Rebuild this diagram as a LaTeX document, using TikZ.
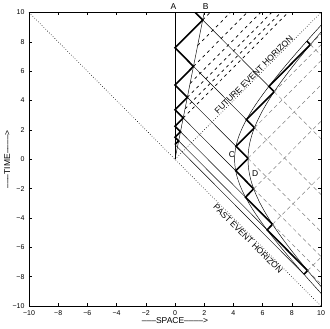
\documentclass[tikz,border=0pt]{standalone}
\usepackage{fontspec}
\setmainfont{Liberation Sans}
\usetikzlibrary{calc}
\definecolor{Ink}{HTML}{000000}
\definecolor{Shade}{HTML}{808080}

\tikzset{
  frame/.style={Ink,line width=0.5pt},
  horizon/.style={Ink,dotted,line width=0.6pt},
  world/.style={Ink,line width=0.45pt},
  signal/.style={Ink,line width=1.6pt,line join=miter},
  ray/.style={Ink,line width=0.45pt},
  lost/.style={Ink,dashed,dash pattern=on 3pt off 3.5pt,line width=0.7pt},
  farray/.style={Shade,dashed,dash pattern=on 4pt off 3pt,line width=0.5pt},
  caption/.style={font=\fontsize{8.5}{9}\selectfont}
}

\begin{document}
\begin{tikzpicture}[x=14.6pt,y=14.68pt,font=\fontsize{7}{8}\selectfont]
  \useasboundingbox (-11.986,-11.56) rectangle (10.616,10.85);
  % hyperbola constants: C at a^2 = 50/3, D at b^2 = 25
  \def\aa{16.6667}
  \def\bb{25}
  \begin{scope}
    \clip (-10,-10) rectangle (10,10);
    % horizons
    \draw[horizon] (-10,10) -- (10,-10);
    \draw[horizon] (0,0) -- (10,10);
    % inertial observers A and B
    \draw[world] (0,0) -- (0,10);
    \draw[world] (0,0) -- (2,10);
    % accelerated observers C and D
    \draw[world] plot[domain=-10:10,samples=80] ({sqrt(\aa+\x*\x)},\x);
    \draw[world] plot[domain=-10:10,samples=80] ({sqrt(\bb+\x*\x)},\x);
    % light clock between A and B
    \draw[signal] (0,1)
      \foreach \n in {0,...,6} { -- ({0.25*1.5^\n},{1.25*1.5^\n}) -- (0,{1.5^(\n+1)}) };
    % rays from A, B down to C
    \draw[ray] (0,1) -- ({(1+\aa)/2},{(1-\aa)/2});
    \foreach \n in {0,...,5} {
      \pgfmathsetmacro{\u}{1.5^(\n+1)}
      \pgfmathsetmacro{\v}{\aa/\u}
      \draw[ray] ({0.25*1.5^\n},{1.25*1.5^\n}) -- ({(\u+\v)/2},{(\u-\v)/2});
    }
    % rays past B which never reach C, D
    \foreach \n in {4,...,10} {
      \pgfmathsetmacro{\u}{1.5^(\n/2)}
      \draw[lost] ({0.25*\u},{1.25*\u}) -- ({10-\u},10);
    }
    % light clock between C and D
    \draw[signal] ({(1+\aa)/2},{(1-\aa)/2})
      \foreach \n in {0,...,6} {
        -- ({(1.5^(\n+1)+\aa/1.5^\n)/2},{(1.5^(\n+1)-\aa/1.5^\n)/2})
        -- ({(1.5^(\n+1)+\aa/1.5^(\n+1))/2},{(1.5^(\n+1)-\aa/1.5^(\n+1))/2}) };
    % rays passing D
    \foreach \n in {0,...,6} {
      \pgfmathsetmacro{\u}{1.5^(\n+1)}
      \pgfmathsetmacro{\v}{\aa/1.5^\n}
      \draw[farray] ({(\u+\v)/2},{(\u-\v)/2}) -- (10,{10-\v});
      \draw[farray] ({(\u+\bb/\u)/2},{(\u-\bb/\u)/2}) -- (10,{\u-10});
    }
  \end{scope}
  % frame and ticks
  \draw[frame] (-10,-10) rectangle (10,10);
  \foreach \k in {-8,-6,...,8} {
    \draw[frame] (\k,-10) -- ++(0,0.2);
    \draw[frame] (\k,10) -- ++(0,-0.2);
    \draw[frame] (-10,\k) -- ++(0.2,0);
    \draw[frame] (10,\k) -- ++(-0.2,0);
  }
  \foreach \k in {-10,-8,...,10} {
    \node[below=1pt] (xt\k) at (\k,-10) {\ifnum\k<0 −\the\numexpr-\k\relax\else\k\fi};
    \node[left=1pt] (yt\k) at (-10,\k) {\ifnum\k<0 −\the\numexpr-\k\relax\else\k\fi};
  }
  \node[caption] (xlab) at (0,-11.0) {–––SPACE––––>};
  \node[caption,rotate=90] (ylab) at (-11.5,0) {–––TIME––––>};
  % observer labels
  \node[caption,above=-1pt] (labA) at (-0.1,10) {A};
  \node[caption,above=-1pt] (labB) at (2.1,10) {B};
  \node[caption] (labC) at (3.9,0.3) {C};
  \node[caption] (labD) at (5.5,-0.95) {D};
  \node[caption,rotate=45] (fut) at (5.4,5.75) {FUTURE EVENT HORIZON};
  \node[caption,rotate=-45] (past) at (5.0,-5.4) {PAST EVENT HORIZON};
\end{tikzpicture}
\end{document}
